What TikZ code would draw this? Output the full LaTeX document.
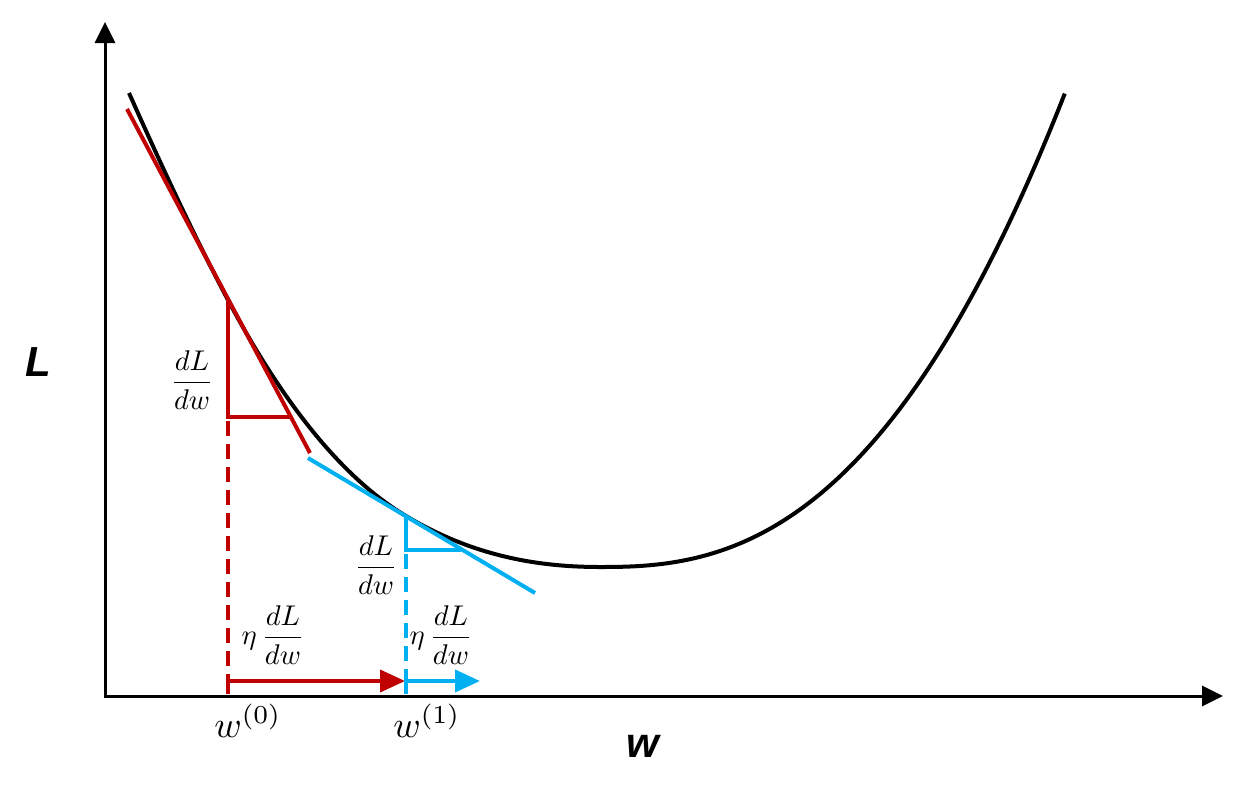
\documentclass[tikz,border=0pt]{standalone}
\usepackage{amsmath}
\usepackage{fontspec}
\newfontfamily\arialfont{Liberation Sans}
\usetikzlibrary{arrows.meta}
\definecolor{gdred}{HTML}{C00000}
\definecolor{gdblue}{HTML}{00B0F0}
\tikzset{
  axisline/.style={line width=3pt,{Triangle[length=21pt,width=20pt]}-{Triangle[length=21pt,width=20pt]}},
  lossline/.style={line width=4pt},
  tangent/.style={line width=4pt},
  tri/.style={line width=3.2pt},
  guide/.style={line width=3.6pt,dash pattern=on 15pt off 8pt},
  steparrow/.style={line width=4pt,-{Triangle[length=25pt,width=22pt]}},
  fraclabel/.style={inner sep=0pt,scale=2.85},
  wlabel/.style={inner sep=0pt,anchor=base,scale=3.7},
  axislabel/.style={inner sep=0pt,font=\fontsize{42}{48}\selectfont\arialfont\bfseries\itshape},
}
\begin{document}
\begin{tikzpicture}[x=1pt,y=-1pt]
\useasboundingbox (0,0) rectangle (1243,793);
% axes
\coordinate (O) at (105,696);
\coordinate (ytip) at (105,22);
\coordinate (xtip) at (1223,696);
\draw[axisline] (ytip) -- (O) -- (xtip);
\node[axislabel] (Llab) at (38,362) {L};
\node[axislabel] (wlab) at (643,746) {w};
% loss curve
\coordinate (C0) at (129,93);
\coordinate (P0) at (228,300);
\coordinate (P1) at (406,516);
\coordinate (M) at (600,567);
\draw[lossline] (C0) .. controls (162,167) and (195,238) .. (P0)
  .. controls (287,411) and (347,481) .. (P1)
  .. controls (471,555) and (535,567) .. (M)
  -- plot[domain=0:1,samples=90,smooth] ({600+465*\x},{567-474*\x*\x*sqrt(abs(\x))});
% red tangent and triangle
\coordinate (R0) at (228,417);
\coordinate (R0h) at (290,417);
\coordinate (rt1) at (127,109);
\coordinate (rt2) at (310,453);
\draw[tangent,gdred] (rt1) -- (rt2);
\draw[tri,gdred] (P0) -- (R0) -- (R0h);
\coordinate (d0a) at (228,421);
\coordinate (d0b) at (228,680);
\draw[guide,gdred] (d0a) -- (d0b);
% blue tangent and triangle
\coordinate (B1) at (406,550);
\coordinate (B1h) at (461,550);
\coordinate (bt1) at (308,458);
\coordinate (bt2) at (535,593);
\draw[tangent,gdblue] (bt1) -- (bt2);
\draw[tri,gdblue] (P1) -- (B1) -- (B1h);
\coordinate (d1a) at (406,554);
\coordinate (d1b) at (406,680);
\draw[guide,gdblue] (d1a) -- (d1b);
% step arrows
\coordinate (w0) at (228,694);
\coordinate (a0) at (405,681);
\coordinate (w1) at (406,694);
\coordinate (a1) at (480,681);
\draw[steparrow,gdred] (w0) |- (a0);
\draw[steparrow,gdblue] (w1) |- (a1);
% labels
\node[fraclabel] (f0) at (192,380) {$\displaystyle\frac{dL}{dw}$};
\node[fraclabel] (f1) at (376,565) {$\displaystyle\frac{dL}{dw}$};
\node[fraclabel] (e0) at (273,635) {$\eta\,\displaystyle\frac{dL}{dw}$};
\node[fraclabel] (e1) at (441,635) {$\eta\,\displaystyle\frac{dL}{dw}$};
\node[wlabel] (w0lab) at (248,737) {$w^{(0)}$};
\node[wlabel] (w1lab) at (427,737) {$w^{(1)}$};
\end{tikzpicture}
\end{document}
